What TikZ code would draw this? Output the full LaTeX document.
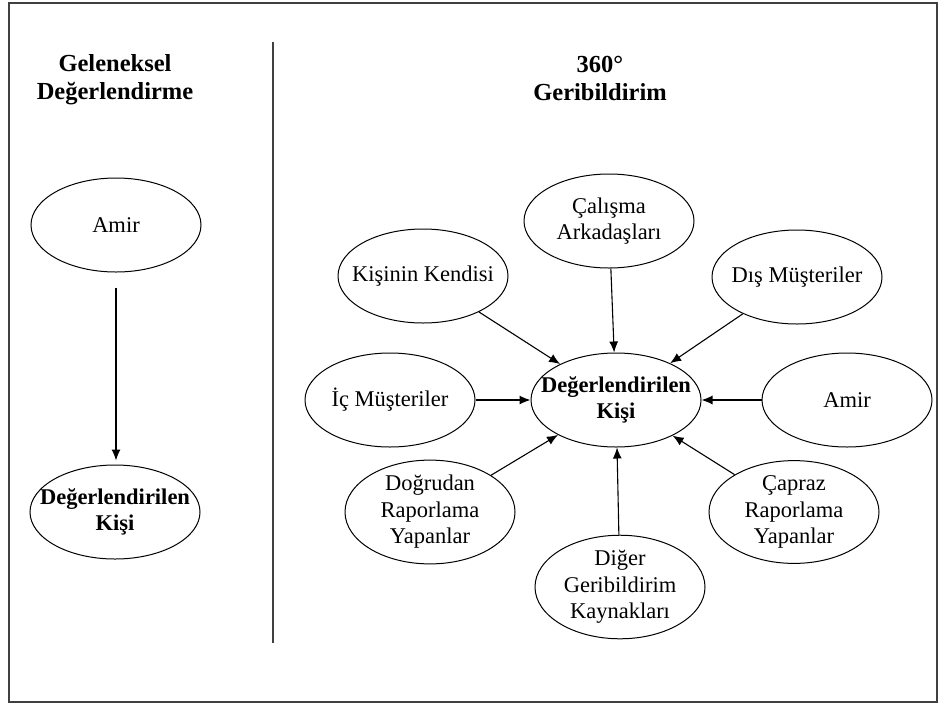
\documentclass[tikz,border=0pt]{standalone}
\usepackage{fontspec}
\setmainfont{Liberation Serif}
\usetikzlibrary{shapes,arrows.meta,positioning}

\begin{document}
\begin{tikzpicture}[x=1pt, y=-1pt]
  \tikzstyle{source}=[ellipse, draw=black, fill=white, line width=1pt, minimum width=170pt, minimum height=94pt, inner ysep=0pt, inner xsep=-22pt, align=center, font=\fontsize{22.5}{26.5}\selectfont]
  \tikzstyle{target}=[source, font=\fontsize{22.5}{26.5}\selectfont\bfseries]
  \tikzstyle{title}=[align=center, font=\fontsize{24.5}{28}\selectfont\bfseries]
  \tikzstyle{line} = [draw, line width=1.1pt, -{Latex[length=11pt,width=9pt]}]

  \useasboundingbox (0,0) rectangle (945,705);
  \draw [line width=1.6pt, black!75] (9,3) rectangle (937,702);

  % divider
  \coordinate (div_top) at (273,42);
  \coordinate (div_bottom) at (273,643);
  \draw [line width=1.2pt, black!75] (div_top) -- (div_bottom);

  % left column
  \node [title] (trad_title) at (115,80) {Geleneksel\\Değerlendirme};
  \node [source] (trad_amir) at (116,225) {Amir};
  \node [target] (trad_person) at (115,512) {Değerlendirilen\\Kişi};

  % right column
  \node [title] (fb_title) at (600,78) {360°\\Geribildirim};
  \node [target] (person) at (616,400) {Değerlendirilen\\Kişi};

  \node [source] (coworkers) at (609,221) {Çalışma\\Arkadaşları};
  \node [source] (self) at (423,276) {Kişinin Kendisi};
  \node [source] (external) at (797,277) {Dış Müşteriler};
  \node [source] (internal) at (390,400) {İç Müşteriler};
  \node [source] (amir) at (847,400) {Amir};
  \node [source] (direct) at (430,512) {Doğrudan\\Raporlama\\Yapanlar};
  \node [source] (cross) at (794,512) {Çapraz\\Raporlama\\Yapanlar};
  \node [source] (other) at (620,587) {Diğer\\Geribildirim\\Kaynakları};

  \draw [line, shorten <=15pt, shorten >=4pt] (trad_amir) to (trad_amir |- trad_person.north);

  \draw [line] (coworkers) to (person);
  \draw [line] (self) to (person);
  \draw [line] (external) to (person);
  \draw [line] (internal) to (person);
  \draw [line] (amir) to (person);
  \draw [line] (direct) to (person);
  \draw [line] (cross) to (person);
  \draw [line] (other) to (person);
\end{tikzpicture}
\end{document}
